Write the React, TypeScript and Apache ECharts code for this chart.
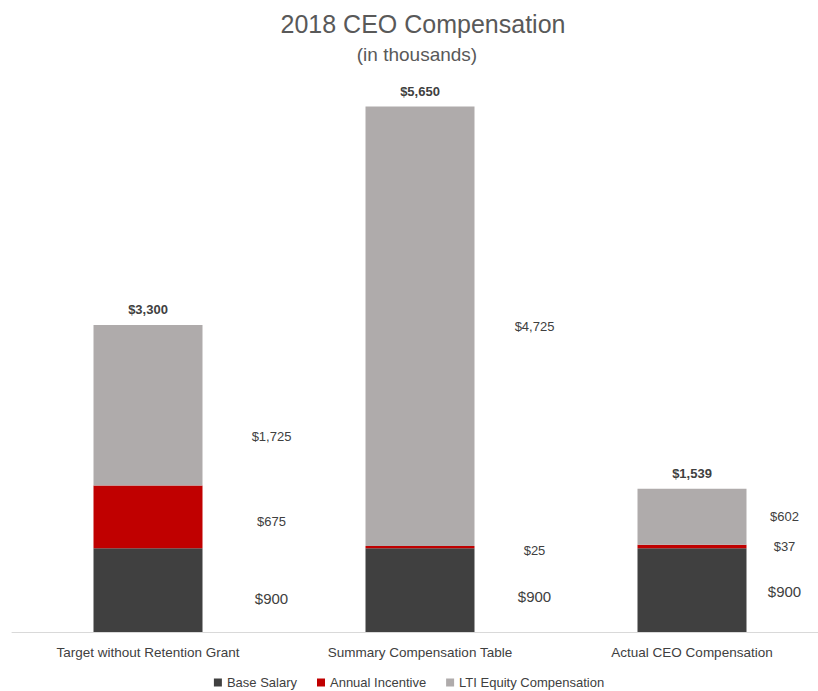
import React, { useEffect, useRef } from "react";
import * as echarts from "echarts";

const categories = ["Target without Retention Grant", "Summary Compensation Table", "Actual CEO Compensation"];
const seriesNames = ["Base Salary", "Annual Incentive", "LTI Equity Compensation"];
const baseSalary = [900, 900, 900];
const annualIncentive = [675, 25, 37];
const ltiEquity = [1725, 4725, 602];
const totals = [3300, 5650, 1539];

const colors = ["#404040", "#c00000", "#afabab"];
// label styling (positions relative to each bar), kept apart from data
const labelDx = [178, 169, 147];
const labelDy: number[][] = [
  [8, 6, 1],
  [5, 3, 0],
  [31, 0, 0],
];
const labelSize = [15, 13, 13];

const FONT = "'Liberation Sans', Arial, sans-serif";
const fmt = (v: number) => "$" + v.toLocaleString("en-US");

export default function App() {
  const ref = useRef<HTMLDivElement>(null);
  useEffect(() => {
    if (!ref.current) return;
    const chart = echarts.init(ref.current, undefined, { renderer: "svg" });
    const values = [baseSalary, annualIncentive, ltiEquity];
    const series: any[] = values.map((arr, si) => ({
      name: seriesNames[si],
      type: "bar",
      stack: "total",
      barWidth: 109,
      itemStyle: { color: colors[si] },
      data: arr.map((v, ci) => ({
        value: v,
        label: {
          show: true,
          position: [labelDx[ci], "50%"],
          align: "center",
          verticalAlign: "middle",
          offset: [0, labelDy[si][ci]],
          formatter: () => fmt(v),
          color: "#404040",
          fontSize: labelSize[si],
          fontFamily: FONT,
        },
      })),
    }));
    series.push({
      name: "Total",
      type: "bar",
      stack: "total",
      barWidth: 109,
      itemStyle: { color: "transparent" },
      data: totals.map(() => 0),
      label: {
        show: true,
        position: "top",
        distance: 9,
        formatter: (p: any) => fmt(totals[p.dataIndex]),
        color: "#404040",
        fontSize: 13,
        fontWeight: "bold",
        fontFamily: FONT,
      },
    });
    chart.setOption({
      animation: false,
      title: [
        {
          text: "2018 CEO Compensation",
          left: 418,
          textAlign: "center",
          top: 6,
          textStyle: { color: "#595959", fontSize: 25, fontWeight: "normal", fontFamily: FONT },
        },
        {
          text: "(in thousands)",
          left: 412,
          textAlign: "center",
          top: 40,
          textStyle: { color: "#595959", fontSize: 19, fontWeight: "normal", fontFamily: FONT },
        },
      ],
      legend: {
        data: seriesNames,
        top: 676,
        padding: 0,
        left: "center",
        icon: "rect",
        itemWidth: 8,
        itemHeight: 8,
        itemGap: 20,
        textStyle: { color: "#404040", fontSize: 13, fontFamily: FONT },
      },
      grid: { left: 12, width: 816, top: 74, bottom: 59, containLabel: false, outerBoundsMode: "none" },
      xAxis: {
        type: "category",
        data: categories,
        axisLine: { lineStyle: { color: "#d9d9d9", width: 1 } },
        axisTick: { show: false },
        axisLabel: { color: "#404040", fontSize: 13.5, margin: 13, fontFamily: FONT },
      },
      yAxis: { type: "value", min: 0, max: 6000, show: false, splitLine: { show: false } },
      series,
    });
    return () => chart.dispose();
  }, []);
  return (
    <div
      ref={ref}
      style={{ position: "absolute", left: 0, top: 0, width: 818, height: 691, background: "#fff", overflow: "hidden" }}
    />
  );
}
